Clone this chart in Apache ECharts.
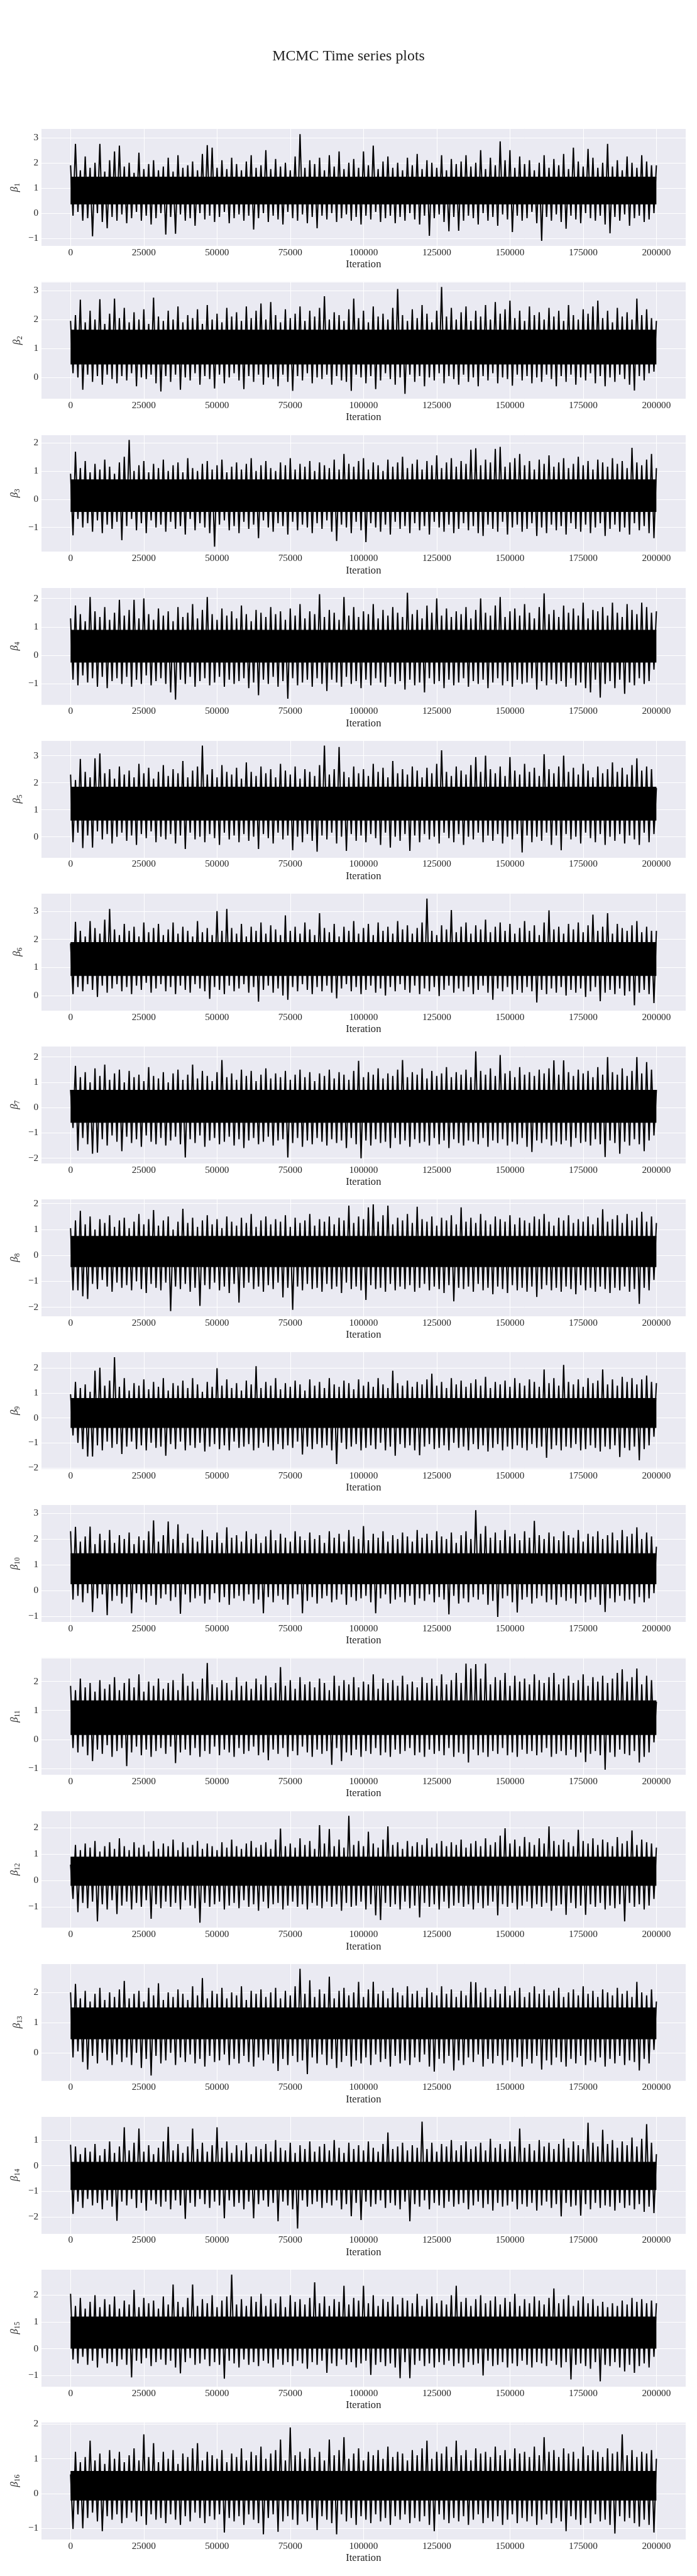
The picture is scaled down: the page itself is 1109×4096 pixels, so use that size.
<!DOCTYPE html>
<html><head><meta charset="utf-8">
<script src="https://cdn.jsdelivr.net/npm/echarts@6/dist/echarts.min.js"></script>
<style>html,body{margin:0;padding:0;background:#fff}#c{width:1109px;height:4096px}</style>
</head><body><div id="c"></div>
<script>
// ---- data: successive local peaks / troughs of each beta trace ----
const ITERATIONS = 200000;
const xTicks = [0, 25000, 50000, 75000, 100000, 125000, 150000, 175000, 200000];
const labels = ['1','2','3','4','5','6','7','8','9','10','11','12','13','14','15','16'];

const peaks1 = [1.9, 2.75, 1.7, 2.25, 1.8, 2.0, 2.75, 1.65, 2.1, 2.45, 2.68, 1.85, 2.0, 1.6, 2.4, 1.75, 1.95, 2.1, 1.7, 1.85, 2.2, 1.65, 2.3, 1.8, 1.9, 2.05, 1.7, 2.35, 2.7, 2.6, 1.8, 2.1, 1.75, 2.2, 1.95, 1.7, 2.05, 2.3, 1.8, 1.9, 2.5, 1.75, 2.15, 1.85, 2.0, 1.7, 2.25, 3.14, 1.8, 2.1, 1.95, 2.2, 1.7, 2.3, 1.85, 2.45, 1.75, 2.0, 2.15, 1.8, 2.45, 1.9, 2.68, 1.75, 2.05, 2.25, 1.8, 2.0, 1.7, 2.2, 1.9, 2.35, 1.75, 2.1, 2.0, 1.8, 2.3, 1.7, 2.15, 1.95, 2.05, 2.3, 1.85, 2.0, 2.5, 1.75, 2.2, 1.9, 2.85, 2.1, 2.5, 1.8, 2.25, 1.95, 2.1, 1.7, 2.0, 2.3, 1.8, 2.15, 1.9, 2.35, 1.75, 2.6, 2.05, 1.85, 2.55, 2.2, 1.8, 2.0, 2.75, 1.85, 2.1, 1.7, 2.25, 2.0, 1.8, 2.3, 2.05, 1.9, 1.9];
const troughs1 = [-0.1, 0.05, -0.3, -0.2, -0.92, 0.0, -0.35, -0.6, -0.15, -0.3, -0.05, -0.4, -0.2, 0.05, -0.3, -0.1, -0.45, -0.2, 0.0, -0.85, -0.15, -0.82, -0.05, -0.3, -0.2, -0.5, 0.0, -0.25, -0.1, -0.35, -0.15, 0.05, -0.4, -0.2, -0.05, -0.3, -0.1, -0.65, -0.2, 0.0, -0.35, -0.1, -0.25, -0.45, 0.05, -0.2, -0.3, -0.05, -0.4, -0.15, -0.6, -0.1, -0.25, 0.0, -0.35, -0.2, -0.05, -0.3, -0.15, -0.45, -0.1, -0.25, 0.05, -0.35, -0.2, -0.1, -0.4, -0.15, -0.3, 0.0, -0.25, -0.45, -0.1, -0.9, -0.2, -0.05, -0.35, -0.72, -0.15, -0.7, -0.3, -0.1, -0.2, -0.45, 0.0, -0.3, -0.15, -0.5, -0.05, -0.25, -0.75, -0.1, -0.3, -0.2, 0.05, -0.4, -1.1, -0.15, -0.3, -0.05, -0.35, -0.62, -0.1, -0.25, -0.4, 0.0, -0.2, -0.3, -0.1, -0.45, -0.8, -0.15, -0.3, -0.05, -0.5, -0.2, -0.1, -0.35, -0.25, 0.0];

const peaks2 = [1.95, 2.15, 2.68, 1.9, 2.3, 2.0, 2.7, 1.85, 2.2, 2.72, 2.05, 2.4, 1.9, 2.25, 2.0, 2.35, 1.85, 2.75, 2.1, 1.95, 2.3, 2.0, 2.45, 1.9, 2.15, 2.05, 2.35, 1.85, 2.5, 2.0, 2.2, 1.9, 2.4, 2.1, 2.25, 1.95, 2.45, 2.05, 2.3, 2.55, 2.0, 2.6, 2.15, 1.9, 2.35, 2.05, 2.2, 2.45, 1.95, 2.3, 2.1, 2.4, 2.8, 2.0, 2.25, 2.15, 1.95, 2.35, 2.72, 2.05, 2.3, 1.9, 2.45, 2.1, 2.2, 2.0, 2.4, 3.05, 2.15, 1.95, 2.35, 2.05, 2.5, 2.2, 1.9, 2.3, 3.12, 2.1, 2.4, 2.0, 2.25, 2.45, 1.95, 2.3, 2.1, 2.5, 2.0, 2.6, 2.2, 2.35, 2.65, 2.05, 2.3, 1.95, 2.45, 2.15, 2.25, 2.0, 2.4, 2.1, 2.3, 1.95, 2.5, 2.15, 2.0, 2.35, 2.2, 2.45, 2.65, 2.05, 2.3, 1.9, 2.4, 2.1, 2.25, 2.0, 2.72, 2.15, 2.35, 2.05, 1.95];
const troughs2 = [0.15, 0.0, -0.42, 0.1, -0.15, 0.05, -0.25, 0.1, -0.05, -0.2, 0.05, -0.1, 0.15, -0.3, 0.0, -0.05, 0.1, -0.2, -0.48, 0.05, -0.15, 0.1, -0.42, 0.0, -0.1, 0.15, -0.25, 0.05, -0.05, -0.38, 0.1, -0.2, 0.0, 0.15, -0.1, -0.4, 0.05, -0.15, 0.1, -0.25, 0.0, -0.05, -0.3, 0.1, -0.15, -0.46, 0.05, -0.1, 0.15, -0.2, 0.0, -0.05, 0.1, -0.25, 0.05, -0.1, -0.15, -0.46, 0.1, 0.0, -0.2, 0.05, -0.4, -0.1, 0.15, -0.05, -0.25, 0.0, -0.56, 0.1, -0.15, 0.05, -0.3, 0.0, -0.1, 0.15, -0.2, 0.05, -0.05, -0.25, 0.1, -0.15, 0.0, -0.3, 0.05, -0.1, 0.15, -0.2, 0.0, -0.05, -0.28, 0.1, -0.1, 0.05, -0.2, 0.0, -0.15, 0.1, -0.05, -0.3, 0.05, -0.15, 0.1, -0.25, 0.0, -0.1, 0.15, -0.2, 0.05, -0.3, 0.0, -0.15, 0.1, -0.05, -0.25, -0.45, 0.05, -0.1, 0.15, 0.2];

const peaks3 = [0.9, 1.68, 1.1, 1.35, 0.95, 1.25, 1.05, 1.4, 1.15, 0.9, 1.3, 1.5, 2.1, 1.0, 1.2, 1.35, 0.95, 1.25, 1.1, 1.4, 1.0, 1.2, 1.3, 0.95, 1.45, 1.1, 1.0, 1.25, 1.35, 1.05, 1.2, 1.4, 0.95, 1.15, 1.3, 1.05, 1.25, 1.45, 1.0, 1.2, 1.35, 1.1, 1.0, 1.3, 1.2, 1.45, 1.05, 1.25, 1.15, 1.35, 1.0, 1.3, 1.2, 1.1, 1.4, 1.05, 1.6, 1.25, 1.15, 1.35, 1.45, 1.05, 1.3, 1.2, 1.0, 1.4, 1.15, 1.3, 1.5, 1.1, 1.25, 1.4, 1.05, 1.35, 1.2, 1.55, 1.1, 1.3, 1.45, 1.15, 1.35, 1.25, 1.75, 1.8, 1.2, 1.4, 1.3, 1.78, 1.85, 1.15, 1.3, 1.45, 1.6, 1.2, 1.35, 1.05, 1.4, 1.25, 1.55, 1.15, 1.3, 1.45, 1.1, 1.25, 1.5, 1.2, 1.35, 1.05, 1.4, 1.3, 1.15, 1.45, 1.25, 1.35, 1.1, 1.82, 1.3, 1.2, 1.4, 1.6, 1.1];
const troughs3 = [-1.28, -0.7, -1.0, -0.85, -1.15, -0.75, -1.2, -0.9, -1.05, -0.8, -1.45, -0.95, -0.7, -1.1, -0.85, -1.2, -0.75, -1.0, -0.9, -1.15, -0.8, -1.05, -0.95, -1.25, -0.7, -1.1, -0.85, -1.0, -1.2, -1.68, -0.9, -0.75, -1.1, -0.95, -1.2, -0.8, -1.05, -0.9, -1.38, -0.75, -1.0, -1.15, -0.85, -0.95, -1.25, -0.8, -1.1, -0.9, -1.0, -1.2, -0.85, -1.05, -0.75, -1.15, -1.48, -0.9, -1.0, -1.2, -0.8, -1.1, -1.52, -0.85, -1.0, -1.15, -0.9, -1.25, -0.8, -1.05, -0.95, -1.2, -0.85, -1.1, -0.95, -1.25, -0.8, -1.0, -1.15, -0.9, -1.2, -1.05, -0.85, -1.1, -0.95, -1.2, -1.3, -0.9, -1.05, -1.15, -0.8, -1.25, -1.0, -0.9, -1.15, -1.05, -0.85, -1.3, -1.0, -1.2, -0.9, -1.1, -0.95, -1.25, -0.85, -1.05, -1.15, -0.9, -1.2, -1.0, -0.85, -1.3, -1.05, -0.9, -1.15, -1.0, -1.25, -0.85, -1.1, -0.95, -1.2, -1.38];

const peaks4 = [1.3, 1.75, 1.45, 1.2, 2.05, 1.55, 1.35, 1.7, 1.25, 1.5, 1.95, 1.4, 1.6, 1.95, 1.3, 2.0, 1.45, 1.25, 1.65, 1.4, 1.55, 1.2, 1.7, 1.35, 1.5, 1.8, 1.3, 1.6, 2.05, 1.45, 1.25, 1.65, 1.4, 1.55, 1.3, 1.75, 1.45, 1.2, 1.6, 1.5, 1.35, 1.7, 1.45, 1.55, 1.25, 1.65, 1.4, 1.8, 1.3, 1.55, 1.45, 2.15, 1.35, 1.6, 1.5, 1.25, 2.05, 1.4, 1.7, 1.35, 1.55, 1.45, 1.8, 1.3, 1.6, 1.4, 1.7, 1.5, 1.35, 2.2, 1.45, 1.6, 1.3, 1.75, 1.5, 2.0, 1.4, 1.65, 1.35, 1.55, 1.45, 1.7, 1.3, 1.6, 2.0, 1.5, 1.4, 1.75, 2.05, 1.35, 1.55, 1.65, 1.4, 1.8, 1.5, 1.3, 1.7, 2.18, 1.45, 1.6, 1.35, 1.75, 1.5, 1.65, 1.4, 1.85, 1.3, 1.6, 1.55, 1.7, 1.4, 1.85, 1.5, 1.35, 1.8, 1.6, 1.45, 1.85, 1.7, 1.5, 1.55];
const troughs4 = [-0.85, -1.05, -0.7, -0.95, -0.8, -1.1, -0.75, -1.15, -0.9, -0.8, -1.0, -0.75, -1.1, -0.85, -1.0, -0.7, -1.05, -0.9, -0.8, -1.0, -1.3, -1.55, -0.85, -1.0, -0.75, -1.1, -0.9, -0.8, -1.05, -0.95, -0.75, -1.1, -0.85, -1.0, -0.9, -0.8, -1.15, -0.95, -1.4, -0.85, -1.0, -0.75, -1.1, -0.9, -1.52, -0.8, -1.05, -0.95, -0.85, -1.1, -0.8, -1.0, -1.25, -0.85, -0.95, -1.1, -0.75, -1.0, -0.9, -1.15, -0.85, -1.05, -0.8, -0.95, -1.1, -0.75, -1.0, -0.9, -1.2, -0.85, -1.05, -0.95, -1.3, -0.8, -1.0, -0.9, -1.15, -0.85, -1.05, -0.95, -0.8, -1.1, -0.9, -1.0, -0.85, -1.15, -0.95, -0.8, -1.05, -0.9, -1.1, -0.85, -1.0, -0.95, -0.8, -1.2, -0.9, -1.05, -0.85, -1.0, -0.9, -1.1, -0.8, -1.05, -0.95, -1.15, -1.3, -0.85, -1.48, -1.0, -0.9, -1.15, -0.85, -1.35, -0.95, -1.05, -0.8, -1.0, -0.9, -0.5];

const peaks5 = [2.3, 2.1, 2.88, 2.4, 2.2, 2.9, 3.08, 2.35, 2.5, 2.15, 2.6, 2.3, 2.45, 2.2, 2.7, 2.35, 2.55, 2.15, 2.4, 2.65, 2.25, 2.5, 2.35, 2.8, 2.2, 2.45, 2.6, 3.37, 2.3, 2.5, 2.2, 2.65, 2.4, 2.3, 2.55, 2.15, 2.75, 2.4, 2.25, 2.6, 2.35, 2.5, 2.2, 2.7, 2.45, 2.3, 2.6, 2.15, 2.5, 2.4, 2.25, 2.65, 3.37, 2.3, 2.5, 3.32, 2.4, 2.2, 2.6, 2.35, 2.5, 2.25, 2.7, 2.4, 2.55, 2.2, 2.8, 2.35, 2.5, 2.3, 2.6, 2.45, 2.2, 2.55, 2.35, 2.7, 3.2, 2.4, 2.25, 2.6, 2.45, 2.3, 2.65, 2.95, 2.4, 3.0, 2.5, 2.35, 2.6, 2.25, 2.95, 2.45, 2.3, 2.7, 2.4, 2.55, 2.25, 3.05, 2.5, 2.35, 2.6, 3.0, 2.4, 2.55, 2.3, 2.7, 2.45, 2.2, 2.6, 2.35, 2.5, 2.75, 2.4, 2.55, 2.3, 2.65, 2.9, 2.45, 2.6, 2.5, 1.8];
const troughs5 = [-0.2, 0.15, -0.42, 0.05, -0.4, 0.2, -0.1, 0.1, -0.25, 0.0, 0.15, -0.15, 0.05, -0.3, 0.1, -0.05, 0.2, -0.2, 0.0, -0.1, 0.1, -0.25, 0.05, -0.45, 0.15, -0.1, 0.0, -0.2, 0.1, -0.05, -0.3, 0.15, -0.1, 0.05, -0.2, 0.1, -0.15, 0.0, -0.45, 0.1, -0.05, -0.25, 0.15, -0.1, 0.05, -0.5, 0.0, -0.2, 0.1, -0.15, -0.55, 0.05, -0.1, 0.15, -0.25, 0.0, -0.52, 0.1, -0.15, 0.05, -0.2, 0.1, -0.05, -0.3, 0.15, -0.4, 0.0, -0.15, 0.1, -0.52, 0.05, -0.2, 0.1, -0.1, 0.0, -0.25, 0.15, -0.05, -0.2, 0.1, -0.3, 0.0, -0.1, 0.15, -0.2, 0.05, -0.15, 0.1, -0.25, 0.0, -0.1, 0.1, -0.58, 0.05, -0.2, 0.0, -0.15, 0.15, -0.3, 0.05, -0.5, 0.1, -0.1, 0.0, -0.25, 0.15, -0.05, -0.2, 0.1, -0.3, 0.0, -0.15, 0.1, -0.25, 0.05, -0.1, -0.3, 0.15, -0.2, 0.1];

const peaks6 = [1.85, 2.62, 2.3, 2.1, 2.65, 2.4, 2.2, 2.7, 3.08, 2.35, 2.15, 2.55, 2.3, 2.45, 2.1, 2.6, 2.25, 2.4, 2.55, 2.15, 2.35, 2.6, 2.2, 2.45, 2.3, 2.1, 2.65, 2.25, 2.4, 2.15, 3.0, 2.3, 3.08, 2.4, 2.2, 2.55, 2.1, 2.45, 2.3, 2.6, 2.2, 2.5, 2.35, 2.15, 2.85, 2.3, 2.45, 2.2, 2.6, 2.35, 2.15, 2.93, 2.4, 2.25, 2.55, 2.1, 2.45, 2.3, 2.65, 2.2, 2.4, 2.55, 2.15, 2.6, 2.3, 2.45, 2.2, 2.65, 2.35, 2.5, 2.2, 2.4, 2.6, 3.45, 2.3, 2.15, 2.5, 2.35, 3.04, 2.25, 2.45, 2.6, 2.2, 2.5, 2.35, 2.7, 2.25, 2.45, 2.6, 2.3, 2.55, 2.2, 2.4, 2.65, 2.3, 2.5, 2.15, 2.6, 3.03, 2.35, 2.45, 2.2, 2.55, 2.35, 2.6, 2.25, 2.5, 2.88, 2.3, 2.45, 2.93, 2.2, 2.55, 2.4, 2.3, 2.5, 2.65, 2.25, 2.45, 2.3, 2.3];
const troughs6 = [0.05, 0.3, 0.15, 0.4, 0.2, -0.05, 0.35, 0.1, 0.25, 0.4, 0.15, 0.3, 0.05, 0.35, 0.2, 0.45, 0.1, 0.25, 0.4, 0.15, 0.3, 0.05, 0.35, 0.2, 0.1, 0.4, 0.25, 0.15, -0.12, 0.3, 0.2, 0.05, 0.35, 0.15, 0.25, 0.4, 0.1, 0.3, -0.22, 0.2, 0.35, 0.1, 0.25, 0.0, -0.15, 0.3, 0.15, 0.4, 0.2, 0.05, 0.3, 0.15, 0.35, 0.1, -0.1, 0.25, 0.4, 0.15, 0.3, 0.05, 0.2, 0.35, 0.1, 0.25, 0.0, 0.3, 0.15, 0.4, 0.2, 0.1, 0.35, 0.05, 0.25, 0.15, 0.3, -0.02, 0.2, 0.35, 0.1, 0.25, 0.15, 0.3, 0.05, 0.2, 0.35, 0.1, -0.15, 0.25, 0.15, 0.3, 0.05, 0.2, 0.1, 0.3, 0.15, -0.25, 0.2, 0.05, 0.25, 0.1, 0.3, 0.0, 0.2, 0.1, 0.25, -0.05, 0.15, 0.3, -0.2, 0.1, 0.2, 0.05, 0.25, 0.0, 0.15, -0.35, 0.1, 0.2, 0.05, -0.27];

const peaks7 = [0.7, 1.65, 1.2, 1.4, 1.0, 1.55, 1.25, 1.7, 1.1, 1.35, 1.5, 1.0, 1.45, 1.2, 1.3, 1.05, 1.6, 1.25, 1.15, 1.4, 1.0, 1.35, 1.5, 1.1, 1.3, 1.7, 1.15, 1.45, 1.25, 1.05, 1.4, 1.88, 1.2, 1.35, 1.1, 1.5, 1.25, 1.45, 1.05, 1.3, 1.55, 1.15, 1.35, 1.2, 1.45, 1.1, 1.3, 1.5, 1.2, 1.4, 1.05, 1.35, 1.25, 1.5, 1.15, 1.4, 1.3, 1.1, 1.45, 1.85, 1.2, 1.4, 1.3, 1.55, 1.15, 1.35, 1.25, 1.5, 1.88, 1.2, 1.4, 1.3, 1.55, 1.15, 1.45, 1.25, 1.35, 1.6, 1.2, 1.4, 1.3, 1.5, 1.2, 2.22, 1.45, 1.3, 1.55, 1.25, 2.08, 1.35, 1.45, 1.2, 1.6, 1.3, 1.4, 1.25, 1.5, 1.35, 1.55, 1.87, 1.3, 1.87, 1.4, 1.25, 1.5, 1.35, 1.45, 1.2, 1.6, 1.3, 2.0, 1.4, 1.3, 1.55, 1.25, 1.45, 2.0, 1.35, 1.8, 1.5, 0.7];
const troughs7 = [-0.8, -1.7, -1.2, -1.45, -1.82, -1.78, -1.25, -1.5, -1.1, -1.35, -1.72, -1.15, -1.4, -1.25, -1.55, -1.1, -1.35, -1.45, -1.2, -1.5, -1.3, -1.15, -1.45, -1.97, -1.25, -1.4, -1.1, -1.55, -1.3, -1.2, -1.45, -1.35, -1.15, -1.5, -1.25, -1.6, -1.3, -1.2, -1.45, -1.35, -1.15, -1.5, -1.3, -1.25, -1.97, -1.4, -1.2, -1.55, -1.3, -1.45, -1.2, -1.35, -1.5, -1.25, -1.4, -1.3, -1.6, -1.2, -1.45, -2.0, -1.3, -1.5, -1.25, -1.4, -1.35, -1.6, -1.2, -1.45, -1.3, -1.55, -1.25, -1.4, -1.35, -1.5, -1.2, -1.45, -1.3, -1.6, -1.25, -1.4, -1.5, -1.3, -1.35, -1.45, -1.2, -1.55, -1.3, -1.4, -1.25, -1.5, -1.35, -1.45, -1.2, -1.55, -1.75, -1.3, -1.4, -1.25, -1.5, -1.35, -1.45, -1.3, -1.55, -1.2, -1.4, -1.35, -1.5, -1.25, -1.45, -1.95, -1.3, -1.4, -1.82, -1.35, -1.5, -1.25, -1.45, -1.72, -1.3, -1.1];

const peaks8 = [1.05, 1.35, 1.72, 1.2, 1.5, 1.0, 1.4, 1.25, 1.55, 1.1, 1.35, 1.45, 1.05, 1.3, 1.6, 1.2, 1.4, 1.75, 1.15, 1.35, 1.5, 1.0, 1.3, 1.8, 1.25, 1.45, 1.1, 1.35, 1.55, 1.2, 1.4, 1.05, 1.5, 1.3, 1.15, 1.45, 1.25, 1.6, 1.1, 1.35, 1.5, 1.2, 1.4, 1.3, 1.55, 1.1, 1.45, 1.25, 1.35, 1.6, 1.15, 1.4, 1.3, 1.5, 1.2, 1.45, 1.35, 1.92, 1.25, 1.5, 1.4, 1.85, 1.97, 1.3, 1.55, 1.92, 1.2, 1.45, 1.35, 1.6, 1.25, 1.88, 1.4, 1.3, 1.5, 1.15, 1.45, 1.35, 1.55, 1.2, 1.85, 1.3, 1.45, 1.25, 1.6, 1.35, 1.2, 1.5, 1.4, 1.3, 1.55, 1.2, 1.45, 1.35, 1.25, 1.5, 1.4, 1.6, 1.3, 1.15, 1.45, 1.35, 1.55, 1.25, 1.4, 1.3, 1.5, 1.2, 1.45, 1.78, 1.3, 1.4, 1.55, 1.25, 1.6, 1.35, 1.45, 1.68, 1.3, 1.5, 1.25];
const troughs8 = [-1.35, -1.35, -1.58, -1.68, -1.1, -1.3, -0.95, -1.2, -1.4, -1.05, -1.25, -1.15, -1.35, -1.0, -1.3, -1.45, -1.1, -1.25, -1.35, -1.05, -2.15, -1.2, -1.3, -1.1, -1.4, -1.25, -1.95, -1.15, -1.3, -1.05, -1.35, -1.2, -1.45, -1.1, -1.82, -1.25, -1.05, -1.3, -1.2, -1.4, -1.15, -1.3, -1.05, -1.62, -1.25, -2.1, -1.2, -1.35, -1.1, -1.3, -1.25, -1.4, -1.1, -1.3, -1.2, -1.45, -1.05, -1.3, -1.2, -1.35, -1.72, -1.15, -1.3, -1.25, -1.4, -1.1, -1.35, -1.2, -1.3, -1.15, -1.4, -1.25, -1.1, -1.35, -1.2, -1.3, -1.45, -1.15, -1.77, -1.25, -1.3, -1.2, -1.4, -1.1, -1.35, -1.25, -1.5, -1.2, -1.3, -1.45, -1.15, -1.35, -1.25, -1.4, -1.2, -1.6, -1.3, -1.15, -1.35, -1.25, -1.4, -1.2, -1.3, -1.5, -1.15, -1.35, -1.25, -1.4, -1.2, -1.3, -1.45, -1.25, -1.35, -1.2, -1.4, -1.3, -1.87, -1.25, -1.35, -0.95];

const peaks9 = [0.95, 1.45, 1.2, 1.35, 1.05, 1.9, 2.02, 1.3, 1.5, 2.44, 1.25, 1.6, 1.1, 1.4, 1.3, 1.55, 1.15, 1.45, 1.25, 1.6, 1.1, 1.4, 1.3, 1.5, 1.2, 1.6, 1.35, 1.05, 1.45, 1.25, 2.0, 1.3, 1.55, 1.2, 1.4, 1.1, 1.5, 1.35, 2.08, 1.2, 1.45, 1.3, 1.6, 1.15, 1.4, 1.25, 1.5, 1.35, 1.1, 1.55, 1.3, 1.45, 1.2, 1.6, 1.35, 1.25, 1.5, 1.4, 1.15, 1.55, 1.3, 1.45, 1.25, 1.6, 1.35, 1.2, 1.9, 1.4, 1.3, 1.5, 1.25, 1.45, 1.35, 1.55, 1.78, 1.3, 1.45, 1.2, 1.6, 1.35, 1.5, 1.25, 1.4, 1.55, 1.3, 1.65, 1.2, 1.45, 1.35, 1.5, 1.25, 1.6, 1.4, 1.3, 1.55, 1.45, 1.25, 1.95, 1.4, 1.6, 1.3, 2.13, 1.45, 1.35, 1.55, 1.25, 1.6, 1.4, 1.5, 1.95, 1.35, 1.55, 1.3, 1.65, 1.45, 1.6, 1.35, 1.55, 1.7, 1.45, 1.4];
const troughs9 = [-0.7, -1.0, -1.25, -1.55, -1.55, -1.1, -1.3, -0.95, -1.2, -1.05, -1.45, -1.15, -0.95, -1.25, -1.1, -1.3, -1.0, -1.2, -1.15, -1.52, -1.05, -1.25, -0.95, -1.3, -1.1, -1.2, -1.0, -1.35, -1.15, -1.05, -1.25, -1.1, -1.3, -0.95, -1.2, -1.15, -1.05, -1.3, -1.2, -1.0, -1.15, -1.3, -1.05, -1.25, -1.1, -1.2, -0.95, -1.47, -1.15, -1.25, -1.05, -1.2, -1.1, -1.3, -1.85, -1.0, -1.25, -1.15, -1.05, -1.3, -1.2, -1.1, -1.25, -1.0, -1.3, -1.15, -1.52, -1.05, -1.2, -1.1, -1.3, -1.5, -1.15, -1.05, -1.25, -1.2, -1.1, -1.3, -1.0, -1.2, -1.15, -1.3, -1.05, -1.25, -1.1, -1.35, -1.2, -1.05, -1.3, -1.15, -1.25, -1.1, -1.2, -1.3, -1.05, -1.2, -1.15, -1.6, -1.25, -1.1, -1.3, -1.15, -1.2, -1.05, -1.3, -1.25, -1.1, -1.2, -1.35, -1.15, -1.25, -1.1, -1.57, -1.2, -1.3, -1.15, -1.7, -1.25, -1.1, -0.75];

const peaks10 = [2.3, 2.47, 1.9, 2.1, 2.48, 1.8, 2.2, 1.95, 2.35, 1.85, 2.15, 2.0, 2.25, 1.8, 2.1, 1.95, 2.3, 2.72, 1.9, 2.15, 2.68, 2.0, 2.57, 1.85, 2.2, 2.05, 1.9, 2.35, 2.1, 1.95, 2.25, 1.85, 2.45, 2.05, 2.15, 1.9, 2.3, 2.0, 2.2, 1.85, 2.1, 2.35, 1.95, 2.2, 2.05, 1.9, 2.3, 2.1, 1.95, 2.25, 2.0, 2.15, 1.85, 2.3, 2.05, 2.2, 1.9, 2.35, 2.1, 2.0, 2.5, 1.95, 2.2, 2.05, 2.3, 1.9, 2.15, 2.0, 2.25, 2.1, 1.9, 2.35, 2.05, 2.2, 1.95, 2.3, 2.1, 2.0, 2.25, 1.85, 2.15, 2.3, 2.0, 3.12, 2.2, 2.5, 2.05, 2.25, 1.95, 2.35, 2.1, 2.2, 1.95, 2.3, 2.05, 2.7, 2.15, 2.0, 2.25, 2.1, 1.95, 2.3, 2.15, 2.05, 2.35, 1.9, 2.2, 2.1, 2.3, 2.0, 2.15, 2.25, 1.95, 2.35, 2.1, 2.2, 2.45, 2.0, 2.25, 2.1, 1.7];
const troughs10 = [-0.35, -0.2, -0.45, -0.1, -0.83, -0.3, -0.15, -0.95, -0.4, -0.2, -0.5, -0.25, -0.88, -0.1, -0.35, -0.45, -0.2, -0.55, -0.3, -0.15, -0.4, -0.25, -0.9, -0.15, -0.45, -0.3, -0.2, -0.5, -0.35, -0.1, -0.45, -0.25, -0.55, -0.3, -0.2, -0.4, -0.15, -0.5, -0.35, -0.88, -0.25, -0.45, -0.2, -0.35, -0.55, -0.3, -0.15, -0.88, -0.4, -0.25, -0.5, -0.3, -0.2, -0.45, -0.35, -0.15, -0.55, -0.25, -0.4, -0.3, -0.2, -0.45, -0.88, -0.3, -0.15, -0.5, -0.35, -0.25, -0.45, -0.2, -0.55, -0.3, -0.4, -0.15, -0.45, -0.25, -0.35, -0.92, -0.2, -0.5, -0.3, -0.45, -0.25, -0.35, -0.15, -0.55, -0.4, -1.02, -0.3, -0.2, -0.45, -0.85, -0.35, -0.25, -0.5, -0.3, -0.2, -0.45, -0.35, -0.55, -0.25, -0.4, -0.3, -0.5, -0.2, -0.45, -0.35, -0.25, -0.55, -0.83, -0.3, -0.45, -0.2, -0.4, -0.35, -0.5, -0.25, -0.45, -0.3, -0.1];

const peaks11 = [1.85, 1.7, 2.1, 1.8, 1.95, 1.65, 2.05, 1.75, 1.9, 2.15, 1.7, 1.95, 2.1, 1.8, 2.25, 1.65, 2.0, 1.85, 2.1, 1.75, 1.95, 2.05, 1.7, 2.27, 1.85, 2.0, 1.75, 2.1, 2.64, 1.9, 1.8, 2.05, 1.95, 1.7, 2.15, 1.85, 2.0, 1.75, 2.1, 1.9, 2.2, 1.8, 1.95, 2.5, 1.85, 2.05, 1.75, 2.15, 1.9, 2.0, 1.8, 2.1, 1.95, 1.7, 2.2, 1.85, 2.05, 1.9, 2.15, 1.8, 2.0, 1.9, 2.25, 1.75, 2.1, 1.95, 2.05, 1.85, 2.2, 1.9, 2.0, 1.8, 2.15, 1.95, 2.1, 1.85, 2.25, 1.9, 2.05, 2.3, 1.95, 2.62, 2.45, 2.6, 2.1, 2.62, 1.9, 2.15, 2.05, 2.3, 1.85, 2.2, 2.0, 2.1, 1.9, 2.25, 2.05, 1.95, 2.15, 2.3, 1.9, 2.1, 2.2, 1.95, 2.05, 2.25, 1.85, 2.15, 2.0, 2.2, 1.95, 2.1, 2.3, 2.42, 2.0, 2.15, 2.45, 1.9, 2.2, 2.05, 1.3];
const troughs11 = [-0.3, -0.45, -0.25, -0.55, -0.75, -0.35, -0.5, -0.2, -0.6, -0.4, -0.3, -0.92, -0.45, -0.25, -0.55, -0.35, -0.6, -0.4, -0.3, -0.5, -0.25, -0.82, -0.45, -0.35, -0.55, -0.3, -0.6, -0.4, -0.5, -0.25, -0.55, -0.35, -0.45, -0.6, -0.3, -0.5, -0.4, -0.25, -0.55, -0.45, -0.72, -0.35, -0.5, -0.3, -0.6, -0.4, -0.55, -0.25, -0.45, -0.6, -0.35, -0.5, -0.4, -0.88, -0.3, -0.75, -0.45, -0.55, -0.35, -0.6, -0.4, -0.5, -0.3, -0.55, -0.45, -0.6, -0.35, -0.5, -0.4, -0.3, -0.55, -0.45, -0.6, -0.35, -0.5, -0.4, -0.55, -0.3, -0.6, -0.45, -0.5, -0.8, -0.35, -0.55, -0.45, -0.6, -0.4, -0.5, -0.3, -0.55, -0.45, -0.6, -0.35, -0.5, -0.4, -0.55, -0.45, -0.3, -0.6, -0.5, -0.4, -0.55, -0.35, -0.6, -0.45, -0.78, -0.5, -0.4, -0.55, -1.05, -0.45, -0.6, -0.35, -0.5, -0.55, -0.4, -0.8, -0.6, -0.45, -0.1];

const peaks12 = [0.6, 1.35, 1.15, 1.4, 1.25, 1.5, 1.1, 1.3, 1.45, 1.2, 1.6, 1.3, 1.15, 1.45, 1.25, 1.35, 1.1, 1.5, 1.2, 1.4, 1.3, 1.55, 1.15, 1.45, 1.25, 1.35, 1.5, 1.2, 1.4, 1.3, 1.15, 1.45, 1.25, 1.55, 1.3, 1.2, 1.4, 1.5, 1.25, 1.35, 1.45, 1.2, 1.55, 1.97, 1.3, 1.4, 1.25, 1.6, 1.35, 1.5, 1.2, 2.1, 1.4, 1.95, 1.3, 1.55, 1.25, 2.45, 1.35, 1.5, 1.3, 1.85, 1.4, 1.25, 1.55, 2.05, 1.35, 1.45, 1.2, 1.5, 1.3, 1.45, 1.35, 1.6, 1.25, 1.4, 1.5, 1.3, 1.45, 1.35, 1.55, 1.25, 1.4, 1.5, 1.3, 1.6, 1.35, 1.45, 1.7, 1.98, 1.4, 1.55, 1.3, 1.65, 1.45, 1.35, 1.6, 1.4, 2.05, 1.5, 1.35, 1.55, 1.45, 1.3, 1.92, 1.5, 1.4, 1.6, 1.35, 1.55, 1.45, 1.3, 1.65, 1.4, 1.5, 1.9, 1.35, 1.55, 1.45, 1.4, 1.25];
const troughs12 = [-0.7, -1.2, -0.85, -1.05, -0.8, -1.55, -0.9, -1.1, -0.75, -1.27, -0.95, -0.8, -1.1, -0.85, -1.0, -0.75, -1.45, -0.9, -1.05, -0.8, -1.0, -0.85, -1.1, -0.75, -0.95, -1.05, -1.6, -0.85, -1.0, -0.9, -0.8, -1.1, -0.95, -0.85, -1.05, -0.75, -1.0, -0.9, -1.15, -0.8, -1.05, -0.9, -0.85, -1.1, -0.95, -0.8, -1.0, -0.9, -1.1, -0.85, -0.95, -1.05, -0.8, -1.0, -0.9, -1.15, -0.85, -1.0, -0.95, -0.8, -1.1, -0.9, -1.32, -1.5, -0.85, -1.0, -0.9, -1.1, -0.8, -1.05, -0.95, -1.4, -0.85, -1.0, -0.9, -1.1, -0.8, -1.05, -0.95, -0.85, -1.0, -0.9, -1.1, -0.85, -1.05, -0.95, -0.8, -1.32, -0.9, -1.0, -0.85, -1.1, -0.95, -0.8, -1.05, -0.9, -1.0, -0.85, -1.15, -0.95, -0.9, -1.3, -0.85, -1.05, -0.95, -1.3, -0.9, -1.0, -0.85, -1.1, -0.95, -1.05, -0.9, -1.55, -0.85, -1.0, -0.9, -1.1, -0.95, -0.7];

const peaks13 = [2.0, 2.28, 1.8, 2.05, 1.7, 1.95, 2.15, 1.75, 2.0, 1.85, 2.1, 2.38, 1.8, 1.95, 2.05, 1.7, 2.15, 1.9, 2.3, 1.75, 2.0, 1.85, 2.1, 1.95, 1.75, 2.2, 1.9, 2.47, 1.8, 2.05, 1.95, 2.15, 1.8, 2.0, 1.9, 2.2, 1.75, 2.05, 1.95, 2.1, 1.85, 2.0, 2.15, 1.8, 2.05, 1.9, 2.2, 2.78, 1.95, 2.4, 1.85, 2.1, 1.95, 2.52, 1.8, 2.05, 2.15, 1.9, 2.0, 2.35, 1.85, 2.1, 2.35, 1.95, 2.05, 1.8, 2.15, 2.0, 1.9, 2.2, 1.95, 2.05, 1.85, 2.15, 2.0, 1.9, 2.2, 1.95, 2.1, 1.85, 2.05, 1.9, 2.35, 2.33, 2.0, 2.15, 1.85, 2.1, 1.95, 2.2, 1.9, 2.05, 2.15, 1.85, 2.0, 2.2, 1.95, 2.1, 1.9, 2.05, 2.15, 1.85, 2.0, 2.1, 1.9, 2.2, 1.95, 2.05, 1.85, 2.1, 2.0, 1.9, 2.15, 1.95, 2.05, 1.85, 2.35, 2.0, 1.9, 2.1, 1.7];
const troughs13 = [-0.15, 0.05, -0.3, -0.55, -0.1, -0.35, 0.0, -0.25, -0.4, -0.05, -0.3, -0.15, -0.4, 0.0, -0.5, -0.2, -0.75, -0.1, -0.35, -0.25, 0.0, -0.4, -0.15, -0.3, -0.05, -0.35, -0.2, -0.45, -0.1, -0.3, -0.25, -0.05, -0.4, -0.2, -0.35, -0.1, -0.3, -0.45, -0.15, -0.25, -0.05, -0.35, -0.6, -0.2, -0.4, -0.1, -0.3, -0.25, -0.7, -0.15, -0.35, -0.05, -0.4, -0.2, -0.5, -0.3, -0.1, -0.45, -0.25, -0.35, -0.15, -0.4, -0.05, -0.3, -0.2, -0.45, -0.1, -0.35, -0.25, -0.4, -0.15, -0.3, -0.05, -0.45, -0.62, -0.2, -0.35, -0.1, -0.58, -0.25, -0.4, -0.15, -0.3, -0.05, -0.45, -0.2, -0.35, -0.1, -0.4, -0.25, -0.3, -0.15, -0.45, -0.2, -0.35, -0.1, -0.55, -0.25, -0.4, -0.15, -0.3, -0.45, -0.2, -0.35, -0.1, -0.4, -0.25, -0.3, -0.15, -0.45, -0.2, -0.35, -0.1, -0.4, -0.25, -0.3, -0.58, -0.2, -0.35, 0.1];

const peaks14 = [0.82, 0.75, 0.45, 0.7, 0.55, 0.85, 0.4, 0.65, 0.95, 0.5, 0.75, 1.5, 0.6, 0.9, 1.45, 0.55, 0.8, 0.45, 0.7, 0.95, 1.52, 0.6, 0.85, 0.5, 0.75, 1.45, 0.65, 0.9, 0.55, 0.8, 1.5, 0.7, 0.95, 0.5, 0.8, 0.6, 0.9, 0.45, 0.75, 0.65, 0.85, 0.55, 1.0, 0.7, 0.6, 0.9, 0.5, 0.8, 0.65, 0.95, 0.55, 0.75, 0.85, 0.6, 1.0, 0.7, 0.5, 0.9, 0.65, 0.8, 0.6, 0.95, 0.7, 0.55, 0.85, 1.3, 0.65, 0.75, 0.9, 0.6, 0.8, 0.7, 1.72, 0.65, 0.9, 0.55, 0.85, 0.75, 1.0, 0.6, 0.8, 0.95, 0.65, 0.75, 0.9, 0.6, 1.05, 0.7, 0.85, 0.65, 0.95, 0.75, 1.45, 0.7, 0.85, 0.6, 1.0, 0.75, 0.9, 0.65, 0.85, 1.05, 0.7, 0.95, 0.8, 0.65, 1.68, 0.9, 0.75, 1.4, 0.85, 1.0, 0.7, 0.95, 0.8, 1.1, 0.75, 1.05, 1.62, 0.9, 0.45];
const troughs14 = [-1.88, -1.4, -1.65, -1.3, -1.55, -1.45, -1.7, -1.35, -1.6, -2.15, -1.4, -1.55, -1.3, -1.65, -1.45, -1.75, -1.35, -1.5, -1.6, -1.4, -1.7, -1.35, -1.55, -2.08, -1.45, -1.6, -1.3, -1.5, -1.65, -1.4, -1.55, -2.05, -1.35, -1.6, -1.45, -1.7, -1.4, -2.05, -1.5, -1.35, -1.6, -1.45, -2.17, -1.4, -1.55, -1.7, -2.45, -1.35, -1.6, -1.5, -1.4, -1.65, -1.45, -1.55, -1.35, -1.7, -1.5, -1.97, -1.45, -2.12, -1.4, -1.6, -1.5, -1.35, -1.65, -1.45, -1.55, -1.7, -1.4, -2.17, -1.5, -1.6, -1.35, -1.7, -1.45, -1.55, -1.65, -1.4, -1.6, -1.5, -1.45, -1.7, -1.55, -1.4, -1.65, -1.5, -1.75, -1.45, -1.6, -1.55, -1.4, -1.7, -1.5, -1.6, -1.45, -1.75, -1.55, -1.4, -1.65, -1.5, -1.98, -1.45, -1.6, -1.55, -1.95, -1.5, -1.7, -1.45, -1.65, -1.55, -1.6, -1.75, -1.45, -1.65, -1.55, -1.7, -1.5, -1.8, -1.6, -1.85];

const peaks15 = [2.05, 1.6, 1.9, 1.5, 1.75, 2.0, 1.55, 1.85, 1.65, 1.95, 1.5, 1.8, 1.65, 2.2, 1.55, 1.9, 1.7, 1.8, 1.5, 1.95, 1.65, 2.4, 1.75, 1.55, 1.9, 2.4, 1.6, 1.85, 1.7, 2.0, 1.55, 1.8, 1.95, 2.77, 1.65, 1.85, 1.6, 1.95, 1.75, 2.05, 1.6, 1.85, 1.7, 1.95, 1.55, 2.0, 1.75, 1.85, 1.65, 1.9, 2.48, 1.7, 1.95, 1.6, 1.85, 1.75, 2.35, 1.65, 1.9, 1.8, 2.35, 1.7, 2.0, 1.6, 1.85, 1.75, 1.95, 1.65, 1.9, 1.8, 1.7, 2.05, 1.6, 1.85, 1.95, 1.7, 1.8, 1.65, 2.0, 2.35, 1.75, 1.9, 1.6, 1.85, 2.0, 1.7, 1.8, 1.95, 1.65, 1.9, 1.75, 2.05, 1.6, 1.85, 1.7, 1.95, 1.8, 1.65, 1.9, 2.25, 1.7, 1.85, 2.0, 1.6, 1.8, 1.95, 1.7, 1.85, 1.6, 1.75, 1.55, 1.7, 1.6, 1.8, 1.65, 1.9, 1.75, 1.85, 1.7, 1.8, 1.7];
const troughs15 = [-0.4, -0.55, -0.3, -0.6, -0.45, -0.7, -0.35, -0.55, -0.5, -0.65, -0.4, -0.6, -1.07, -0.45, -0.55, -0.35, -0.65, -0.5, -0.4, -0.6, -0.45, -0.7, -0.92, -0.5, -0.35, -0.6, -0.55, -0.4, -0.65, -0.5, -0.6, -1.12, -0.45, -0.55, -0.7, -0.4, -0.6, -0.5, -0.65, -0.45, -0.55, -0.7, -0.4, -0.6, -0.5, -0.65, -0.45, -0.55, -0.75, -0.5, -0.6, -0.45, -0.9, -0.55, -0.65, -0.4, -0.6, -0.5, -0.7, -0.55, -0.45, -0.98, -0.6, -0.5, -0.65, -0.55, -0.7, -1.1, -0.5, -1.1, -0.6, -0.45, -0.65, -0.55, -0.7, -0.5, -0.6, -0.45, -0.65, -0.55, -0.7, -0.5, -0.6, -0.55, -1.0, -0.45, -0.65, -0.6, -0.5, -0.7, -0.55, -0.65, -0.45, -0.6, -0.7, -0.5, -0.55, -0.65, -0.45, -0.6, -0.7, -0.5, -1.15, -0.6, -0.55, -0.65, -0.75, -0.5, -1.22, -0.6, -0.65, -0.5, -0.7, -0.85, -0.6, -0.9, -0.65, -0.55, -0.7, -0.3];

const peaks16 = [0.55, 1.2, 0.9, 1.05, 1.52, 0.95, 1.15, 0.85, 1.25, 1.0, 1.2, 0.9, 1.1, 1.3, 0.95, 1.7, 1.05, 1.45, 0.9, 1.2, 1.0, 1.25, 0.85, 1.15, 1.05, 1.3, 1.45, 0.95, 1.2, 1.1, 1.0, 1.25, 0.9, 1.15, 1.05, 1.3, 0.95, 1.2, 1.1, 1.35, 1.0, 1.15, 1.25, 1.55, 0.95, 1.9, 1.1, 1.2, 1.0, 1.3, 1.05, 1.2, 0.95, 1.55, 1.1, 1.25, 1.62, 1.0, 1.15, 1.3, 0.95, 1.2, 1.1, 1.25, 1.0, 1.35, 1.05, 1.2, 1.15, 0.95, 1.25, 1.1, 1.3, 1.52, 1.0, 1.2, 1.15, 1.35, 1.05, 1.52, 1.1, 1.25, 0.95, 1.3, 1.15, 1.2, 1.05, 1.35, 1.1, 1.25, 1.0, 1.3, 1.15, 1.2, 1.05, 1.35, 1.1, 1.62, 1.2, 1.25, 1.05, 1.3, 1.15, 1.2, 1.0, 1.35, 1.1, 1.25, 1.2, 1.05, 1.3, 1.15, 1.2, 1.7, 1.1, 1.25, 1.05, 1.2, 1.15, 1.25, 1.0];
const troughs16 = [-1.02, -0.6, -1.0, -0.7, -0.55, -0.8, -1.08, -0.65, -0.75, -0.6, -0.85, -0.7, -0.55, -0.8, -0.65, -0.9, -0.6, -0.75, -0.7, -0.85, -0.6, -0.75, -0.9, -0.65, -0.8, -0.55, -0.7, -0.85, -0.65, -0.75, -0.6, -1.12, -0.7, -0.8, -0.65, -0.9, -0.6, -0.75, -0.85, -1.17, -0.7, -0.6, -1.1, -0.8, -0.65, -0.75, -0.9, -0.6, -0.8, -0.7, -1.05, -0.65, -0.75, -0.85, -1.17, -0.6, -0.8, -0.7, -0.9, -0.65, -0.75, -0.85, -0.6, -0.8, -0.7, -0.9, -0.65, -0.75, -0.6, -0.85, -0.7, -0.8, -0.65, -0.9, -1.08, -0.6, -0.75, -0.85, -0.7, -0.8, -0.65, -0.9, -0.75, -0.6, -0.85, -0.7, -0.8, -0.65, -0.9, -0.75, -0.6, -0.85, -0.7, -0.8, -0.65, -0.9, -0.75, -0.6, -0.85, -0.7, -0.8, -1.08, -0.65, -0.75, -0.9, -0.7, -0.85, -0.6, -0.8, -0.75, -0.9, -1.15, -0.65, -0.8, -0.7, -0.85, -0.95, -0.75, -0.9, -1.12];

// dense (solid black) body of each trace: lower / upper edge
const coreLo = [0.35, 0.45, -0.45, -0.25, 0.6, 0.7, -0.6, -0.45, -0.4, 0.25, 0.15, -0.2, 0.45, -0.95, 0.0, -0.2];
const coreHi = [1.45, 1.65, 0.7, 0.9, 1.85, 1.9, 0.7, 0.75, 0.8, 1.45, 1.35, 0.9, 1.5, 0.15, 1.2, 0.65];

const peaks = [peaks1, peaks2, peaks3, peaks4, peaks5, peaks6, peaks7, peaks8, peaks9, peaks10, peaks11, peaks12, peaks13, peaks14, peaks15, peaks16];
const troughs = [troughs1, troughs2, troughs3, troughs4, troughs5, troughs6, troughs7, troughs8, troughs9, troughs10, troughs11, troughs12, troughs13, troughs14, troughs15, troughs16];

// ---- layout ----
const S = 0.853;
const FONT = '"Liberation Serif", "Times New Roman", serif';
const TXT = '#262626';
const chart = echarts.init(document.getElementById('c'), null, {renderer: 'canvas'});
const grids = [], xAxes = [], yAxes = [], series = [];
const fmtMinus = v => String(v).replace('-', '\u2212');

for (let i = 0; i < 16; i++) {
  const seq = [];
  peaks[i].forEach((p, k) => { seq.push(p); if (k < troughs[i].length) seq.push(troughs[i][k]); });
  const step = ITERATIONS / (seq.length - 1);
  const data = seq.map((v, j) => [j * step, v]);
  const lo = Math.min(...seq), hi = Math.max(...seq), pad = 0.05 * (hi - lo);

  grids.push({
    left: 77 * S, width: 1202 * S, top: (240 + 285 * i) * S, height: 219 * S,
    show: true, backgroundColor: '#EAEAF2', borderWidth: 0
  });
  xAxes.push({
    gridIndex: i, type: 'value', min: -0.05 * ITERATIONS, max: 1.05 * ITERATIONS,
    minInterval: 25000, maxInterval: 25000,
    axisLine: {show: false}, axisTick: {show: false},
    splitLine: {show: true, lineStyle: {color: '#ffffff', width: 1}},
    axisLabel: {
      fontFamily: FONT, fontSize: 15.3, color: TXT, margin: 3,
      showMinLabel: false, showMaxLabel: false,
      formatter: v => (xTicks.indexOf(v) >= 0 ? String(v) : '')
    },
    name: 'Iteration', nameLocation: 'middle', nameGap: 21,
    nameTextStyle: {fontFamily: FONT, fontSize: 16.6, color: TXT}
  });
  yAxes.push({
    gridIndex: i, type: 'value', min: lo - pad, max: hi + pad,
    minInterval: 1, maxInterval: 1,
    axisLine: {show: false}, axisTick: {show: false},
    splitLine: {show: true, lineStyle: {color: '#ffffff', width: 1}},
    axisLabel: {
      fontFamily: FONT, fontSize: 15.3, color: TXT, margin: 4.5,
      showMinLabel: false, showMaxLabel: false,
      formatter: v => (Math.abs(v - Math.round(v)) < 1e-9 ? fmtMinus(Math.round(v)) : '')
    },
    name: '{b|\u03b2}{s|' + labels[i] + '}', nameLocation: 'middle', nameGap: 28,
    nameTextStyle: {
      rich: {
        b: {fontFamily: FONT, fontStyle: 'italic', fontSize: 16.6, color: TXT, lineHeight: 20, verticalAlign: 'middle'},
        s: {fontFamily: FONT, fontSize: 11.5, color: TXT, lineHeight: 11, verticalAlign: 'bottom'}
      }
    }
  });
  series.push({
    type: 'line', xAxisIndex: i, yAxisIndex: i, data: data,
    symbol: 'none', showSymbol: false, silent: true, animation: false,
    lineStyle: {color: '#000000', width: 2, join: 'miter'},
    markArea: {
      silent: true, itemStyle: {color: '#000000'},
      data: [[{coord: [0, coreLo[i]]}, {coord: [ITERATIONS, coreHi[i]]}]]
    }
  });
}

chart.setOption({
  backgroundColor: '#ffffff',
  animation: false,
  title: {
    text: 'MCMC Time series plots', left: 'center', top: 78, padding: 0,
    textStyle: {fontFamily: FONT, fontSize: 23.9, fontWeight: 'normal', color: '#222222'}
  },
  grid: grids, xAxis: xAxes, yAxis: yAxes, series: series
});
</script>
</body></html>
